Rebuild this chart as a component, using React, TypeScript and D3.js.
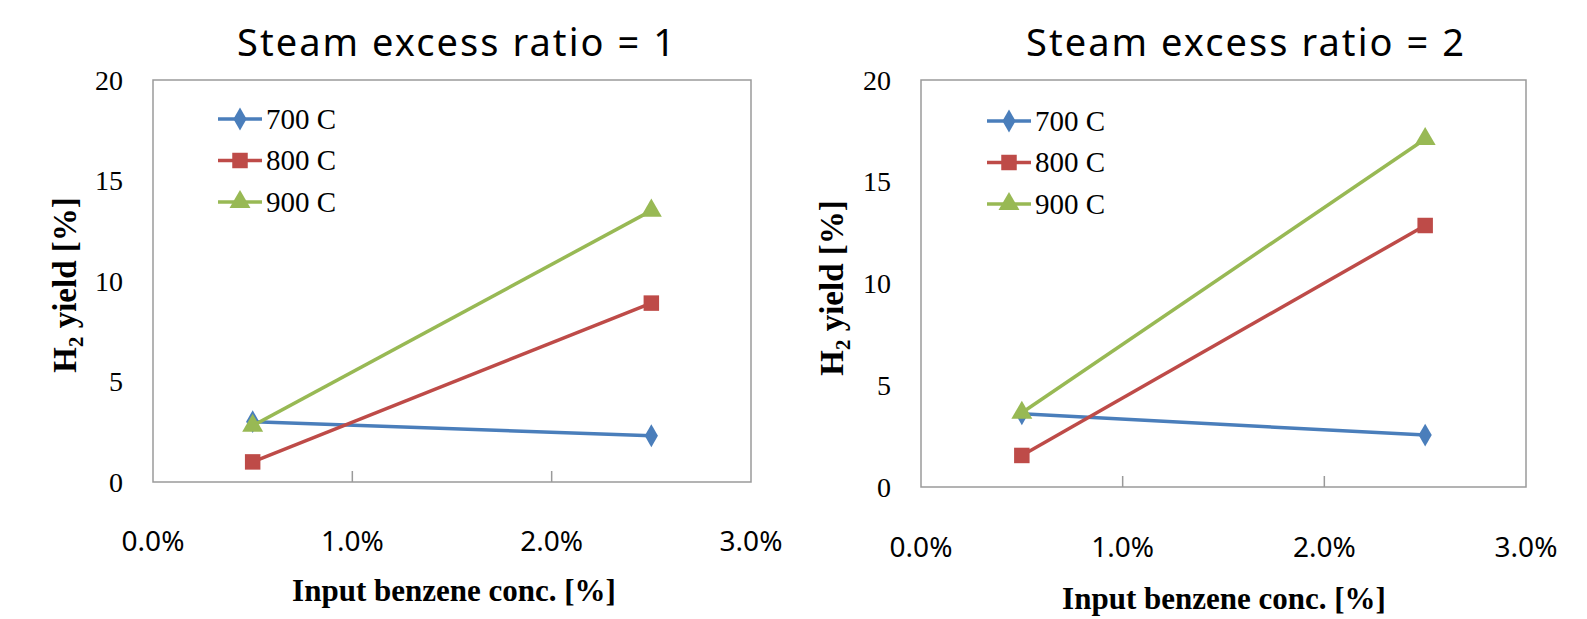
import React from "react";
import * as d3 from "d3";

const xValues = [0.5, 2.5];
const seriesNames = ["700 C", "800 C", "900 C"];
const ratio1_700 = [3.0, 2.3];
const ratio1_800 = [1.0, 8.9];
const ratio1_900 = [2.8, 13.5];
const ratio2_700 = [3.6, 2.55];
const ratio2_800 = [1.55, 12.85];
const ratio2_900 = [3.65, 17.1];
const yTicks = [0, 5, 10, 15, 20];
const xTicks = [0, 1, 2, 3];
const titles = ["Steam excess ratio = 1", "Steam excess ratio = 2"];

const colors = ["#4a7ebb", "#be4b48", "#98b954"];
const symbols = [d3.symbolDiamond, d3.symbolSquare, d3.symbolTriangle];
const symbolSizes = [150, 240, 190];

const SERIF = "'Liberation Serif', 'Times New Roman', serif";
const SANS = "'Noto Sans', 'Open Sans', sans-serif";

type PanelProps = {
  title: string;
  series: number[][];
  left: number;
  right: number;
  top: number;
  bottom: number;
  titleX: number;
  yTickX: number;
  xTickY: number;
  xTitleX: number;
  xTitleY: number;
  yTitleX: number;
  yTitleY: number;
  legendX: number;
  legendY: number;
};

function Panel(p: PanelProps) {
  const x = d3.scaleLinear().domain([0, 3]).range([p.left, p.right]);
  const y = d3.scaleLinear().domain([0, 20]).range([p.bottom, p.top]);
  const line = d3
    .line<number>()
    .x((_, i) => x(xValues[i]))
    .y((d) => y(d));
  return (
    <g>
      <text
        x={p.titleX - 219}
        y={56}
        textLength={438}
        lengthAdjust="spacing"
        fontFamily={SANS}
        fontSize={38}
        fill="#000"
      >
        {p.title}
      </text>
      <rect x={p.left} y={p.top} width={p.right - p.left} height={p.bottom - p.top} fill="#fff" stroke="#9a9a9a" strokeWidth={1.5} />
      {xTicks.slice(1, -1).map((t) => (
        <line key={t} x1={x(t)} x2={x(t)} y1={p.bottom} y2={p.bottom - 11} stroke="#9a9a9a" strokeWidth={1.5} />
      ))}
      {yTicks.map((t) => (
        <text key={t} x={p.yTickX} y={y(t)} dy="0.34em" textAnchor="end" fontFamily={SERIF} fontSize={28} fill="#000">
          {t}
        </text>
      ))}
      {xTicks.map((t) => (
        <text key={t} x={x(t)} y={p.xTickY} textAnchor="middle" fontFamily={SANS} fontSize={28} fill="#000">
          {t.toFixed(1) + "%"}
        </text>
      ))}
      <text x={p.xTitleX} y={p.xTitleY} textAnchor="middle" fontFamily={SERIF} fontWeight="bold" fontSize={31} fill="#000">
        Input benzene conc. [%]
      </text>
      <text
        transform={`translate(${p.yTitleX},${p.yTitleY}) rotate(-90)`}
        textAnchor="middle"
        dy="0.35em"
        fontFamily={SERIF}
        fontWeight="bold"
        fontSize={33}
        fill="#000"
      >
        H<tspan fontSize={21} dy="7">2</tspan>
        <tspan dy="-7"> yield [%]</tspan>
      </text>
      {p.series.map((s, i) => (
        <g key={i}>
          <path d={line(s) || ""} fill="none" stroke={colors[i]} strokeWidth={3.5} />
          {s.map((v, j) => (
            <path
              key={j}
              d={d3.symbol().type(symbols[i]).size(symbolSizes[i])() || ""}
              transform={`translate(${x(xValues[j])},${y(v)})`}
              fill={colors[i]}
            />
          ))}
        </g>
      ))}
      {seriesNames.map((n, i) => {
        const ly = p.legendY + i * 41.5;
        return (
          <g key={n}>
            <line x1={p.legendX} x2={p.legendX + 44} y1={ly} y2={ly} stroke={colors[i]} strokeWidth={3.5} />
            <path
              d={d3.symbol().type(symbols[i]).size(symbolSizes[i])() || ""}
              transform={`translate(${p.legendX + 22},${ly})`}
              fill={colors[i]}
            />
            <text x={p.legendX + 48} y={ly} dy="0.34em" fontFamily={SERIF} fontSize={29} fill="#000">
              {n}
            </text>
          </g>
        );
      })}
    </g>
  );
}

export default function App() {
  return (
    <svg width={1587} height={619} style={{ position: "absolute", left: 0, top: 0, background: "#fff" }}>
      <rect width={1587} height={619} fill="#fff" />
      <Panel
        title={titles[0]}
        series={[ratio1_700, ratio1_800, ratio1_900]}
        left={153}
        right={751}
        top={80}
        bottom={482}
        titleX={456}
        yTickX={123}
        xTickY={551}
        xTitleX={454}
        xTitleY={601}
        yTitleX={64}
        yTitleY={285}
        legendX={218}
        legendY={119}
      />
      <Panel
        title={titles[1]}
        series={[ratio2_700, ratio2_800, ratio2_900]}
        left={921}
        right={1526}
        top={80}
        bottom={487}
        titleX={1245}
        yTickX={891}
        xTickY={557}
        xTitleX={1224}
        xTitleY={609}
        yTitleX={831}
        yTitleY={288}
        legendX={987}
        legendY={121}
      />
    </svg>
  );
}
